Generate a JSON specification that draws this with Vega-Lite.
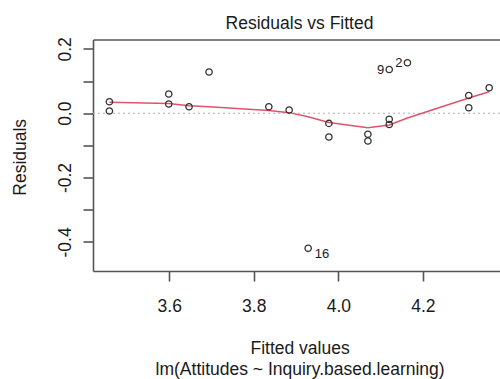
{
  "$schema": "https://vega.github.io/schema/vega-lite/v6.json",
  "width": 407,
  "height": 231.5,
  "autosize": {"type": "none"},
  "padding": {"left": 93, "top": 39.5, "right": 0, "bottom": 108},
  "background": "white",
  "config": {
    "font": "Liberation Sans",
    "view": {"stroke": null},
    "axis": {
      "grid": false,
      "domainColor": "#555555",
      "domainWidth": 1.6,
      "tickColor": "#555555",
      "tickWidth": 1.6,
      "tickSize": 10,
      "labelFont": "Liberation Sans",
      "labelFontSize": 17.5,
      "labelColor": "#1a1a1a",
      "titleFont": "Liberation Sans",
      "titleFontSize": 17.5,
      "titleFontWeight": "normal",
      "titleColor": "#1a1a1a"
    }
  },
  "title": {
    "text": "Residuals vs Fitted",
    "font": "Liberation Sans",
    "fontSize": 17.5,
    "fontWeight": "normal",
    "color": "#1a1a1a",
    "anchor": "middle",
    "frame": "group",
    "dx": 3,
    "offset": -9.7,
    "baseline": "alphabetic"
  },
  "datasets": {
    "points": [
      {"fitted": 3.4584, "resid": 0.0357},
      {"fitted": 3.4584, "resid": 0.0068},
      {"fitted": 3.5988, "resid": 0.0597},
      {"fitted": 3.5988, "resid": 0.0286},
      {"fitted": 3.6469, "resid": 0.0202},
      {"fitted": 3.6942, "resid": 0.1281},
      {"fitted": 3.8356, "resid": 0.0202},
      {"fitted": 3.8837, "resid": 0.0099},
      {"fitted": 3.9287, "resid": -0.42},
      {"fitted": 3.9777, "resid": -0.0317},
      {"fitted": 3.9777, "resid": -0.074},
      {"fitted": 4.07, "resid": -0.0656},
      {"fitted": 4.07, "resid": -0.0864},
      {"fitted": 4.1205, "resid": 0.1358},
      {"fitted": 4.1205, "resid": -0.019},
      {"fitted": 4.1205, "resid": -0.0351},
      {"fitted": 4.1636, "resid": 0.157},
      {"fitted": 4.3087, "resid": 0.055},
      {"fitted": 4.3087, "resid": 0.0171},
      {"fitted": 4.357, "resid": 0.0793}
    ],
    "lowess": [
      {"fitted": 3.4584, "resid": 0.0339},
      {"fitted": 3.5988, "resid": 0.0302},
      {"fitted": 3.6469, "resid": 0.0233},
      {"fitted": 3.6942, "resid": 0.0202},
      {"fitted": 3.8356, "resid": 0.0085},
      {"fitted": 3.8837, "resid": 0.0016},
      {"fitted": 3.9287, "resid": -0.011},
      {"fitted": 3.9777, "resid": -0.0289},
      {"fitted": 4.07, "resid": -0.0451},
      {"fitted": 4.1205, "resid": -0.0367},
      {"fitted": 4.1636, "resid": -0.0149},
      {"fitted": 4.3087, "resid": 0.0472},
      {"fitted": 4.357, "resid": 0.0668}
    ],
    "labels": [
      {"fitted": 4.1205, "resid": 0.1358, "id": "9", "side": "left"},
      {"fitted": 4.1636, "resid": 0.157, "id": "2", "side": "left"},
      {"fitted": 3.9287, "resid": -0.42, "id": "16", "side": "right"}
    ]
  },
  "encoding": {
    "y": {
      "field": "resid",
      "type": "quantitative",
      "scale": {"domain": [-0.4905, 0.2291], "nice": false, "zero": false},
      "axis": {
        "values": [-0.4, -0.3, -0.2, -0.1, 0, 0.1, 0.2],
        "labelExpr": "abs(round(datum.value*10)) % 2 == 0 ? (datum.value < -0.001 ? '-' + format(abs(datum.value), '.1f') : format(abs(datum.value), '.1f')) : ''",
        "labelAngle": -90,
        "labelAlign": "center",
        "labelBaseline": "alphabetic",
        "labelPadding": 13,
        "labelFlush": false,
        "labelOverlap": false,
        "title": "Residuals",
        "titleAngle": -90,
        "titleAlign": "center",
        "titleBaseline": "alphabetic",
        "titleX": -68,
        "titleY": 117.3
      }
    }
  },
  "layer": [
    {
      "data": {"values": [{"resid": 0}]},
      "mark": {"type": "rule", "color": "#b0b0b0", "strokeWidth": 1.1, "strokeDash": [2, 3]},
      "encoding": {}
    },
    {
      "data": {"name": "lowess"},
      "mark": {"type": "line", "color": "#DF536B", "strokeWidth": 1.4, "interpolate": "linear"},
      "encoding": {
        "x": {"field": "fitted", "type": "quantitative", "scale": {"domain": [3.4196, 4.3826], "nice": false, "zero": false}, "axis": null}
      }
    },
    {
      "data": {"name": "points"},
      "mark": {"type": "point", "shape": "circle", "filled": false, "size": 40, "stroke": "#333333", "strokeWidth": 1.3, "opacity": 1},
      "encoding": {
        "x": {
          "field": "fitted",
          "type": "quantitative",
          "axis": {
            "orient": "bottom",
            "values": [3.6, 3.8, 4.0, 4.2],
            "format": ".1f",
            "labelPadding": 30,
            "labelBaseline": "alphabetic",
            "labelFlush": false,
            "labelOverlap": false,
            "title": ["Fitted values", "lm(Attitudes ~ Inquiry.based.learning)"],
            "titleBaseline": "alphabetic",
            "titleAlign": "center",
            "titleX": 206.6,
            "titleY": 82.5,
            "titleLineHeight": 20.5
          }
        }
      }
    },
    {
      "data": {"name": "labels"},
      "transform": [{"filter": "datum.side == 'left'"}],
      "mark": {"type": "text", "align": "right", "baseline": "middle", "dx": -5, "dy": 0.5, "fontSize": 13, "color": "#1a1a1a", "font": "Liberation Sans"},
      "encoding": {
        "x": {
          "field": "fitted",
          "type": "quantitative",
          "axis": {"orient": "top", "labels": false, "ticks": false, "title": null, "domain": true}
        },
        "text": {"field": "id"}
      }
    },
    {
      "data": {"name": "labels"},
      "transform": [{"filter": "datum.side == 'right'"}],
      "mark": {"type": "text", "align": "left", "baseline": "middle", "dx": 6.5, "dy": 5.5, "fontSize": 13, "color": "#1a1a1a", "font": "Liberation Sans"},
      "encoding": {
        "x": {"field": "fitted", "type": "quantitative", "axis": null},
        "text": {"field": "id"}
      }
    }
  ],
  "resolve": {"axis": {"x": "independent"}}
}
